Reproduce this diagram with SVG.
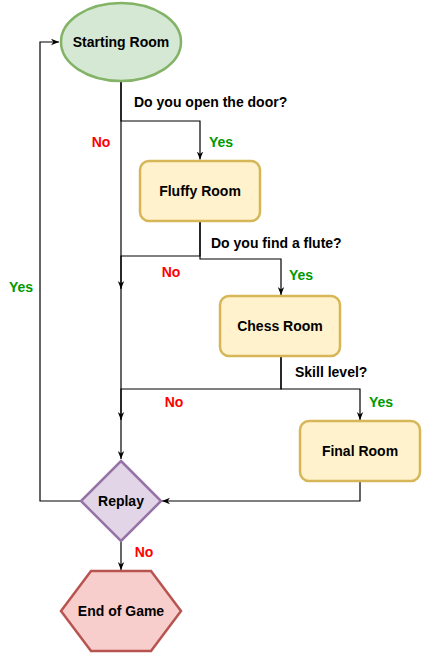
<svg xmlns="http://www.w3.org/2000/svg" width="422" height="653" viewBox="0 0 422 653">
<style>
text{font-family:"Liberation Sans",Arial,Helvetica,sans-serif;font-size:14px;font-weight:bold;fill:#000}
.c{text-anchor:middle}
.no{fill:#ff0000}
.yes{fill:#009900}
.edge{fill:none;stroke:#000;stroke-width:1.2;marker-end:url(#arr)}
.room{fill:#fff2cc;stroke:#d6b656;stroke-width:2.5}
</style>
<defs>
<marker id="arr" viewBox="0 0 10 10" refX="10" refY="5" markerWidth="8" markerHeight="8" markerUnits="userSpaceOnUse" orient="auto">
<path d="M0,1 L10,5 L0,9 L3,5 z" fill="#000"/>
</marker>
</defs>
<rect width="422" height="653" fill="#fff"/>
<g id="connectors">
<path class="edge" d="M121,81 V459"/>
<path class="edge" d="M121,81 V121 H200 V159.5"/>
<path class="edge" d="M200,221 V259 H281 V295"/>
<path class="edge" d="M200,221 V256 H121 V289"/>
<path class="edge" d="M281,357 V389 H360 V420"/>
<path class="edge" d="M281,357 V389 H121 V420"/>
<path class="edge" d="M360,482 V501 H162"/>
<path class="edge" d="M80,501 H40 V42 H59"/>
<path class="edge" d="M121,542 V570"/>
</g>
<g id="labels">
<text x="134" y="107">Do you open the door?</text>
<text class="c no" x="101" y="147">No</text>
<text class="c yes" x="221" y="147">Yes</text>
<text x="211" y="248">Do you find a flute?</text>
<text class="c no" x="171" y="277">No</text>
<text class="c yes" x="301" y="280">Yes</text>
<text x="295" y="377">Skill level?</text>
<text class="c no" x="174" y="407">No</text>
<text class="c yes" x="381" y="407">Yes</text>
<text class="c yes" x="21" y="292">Yes</text>
<text class="c no" x="144" y="557">No</text>
</g>
<g id="starting-room">
<ellipse cx="121" cy="42" rx="60" ry="39" fill="#d5e8d4" stroke="#82b366" stroke-width="2.5"/>
<text class="c" x="121" y="47">Starting Room</text>
</g>
<g id="fluffy-room">
<rect class="room" x="140" y="161" width="120" height="60" rx="9"/>
<text class="c" x="200" y="196">Fluffy Room</text>
</g>
<g id="chess-room">
<rect class="room" x="220" y="296" width="120" height="60" rx="9"/>
<text class="c" x="280" y="331">Chess Room</text>
</g>
<g id="final-room">
<rect class="room" x="300" y="421" width="120" height="60" rx="9"/>
<text class="c" x="360" y="456">Final Room</text>
</g>
<g id="replay">
<polygon points="121,461 161,501 121,541 81,501" fill="#e1d5e7" stroke="#9673a6" stroke-width="2.5"/>
<text class="c" x="121" y="506">Replay</text>
</g>
<g id="end-of-game">
<polygon points="91,571 151,571 181,611 151,651 91,651 61,611" fill="#f8cecc" stroke="#b85450" stroke-width="2.5"/>
<text class="c" x="121" y="616">End of Game</text>
</g>
</svg>
